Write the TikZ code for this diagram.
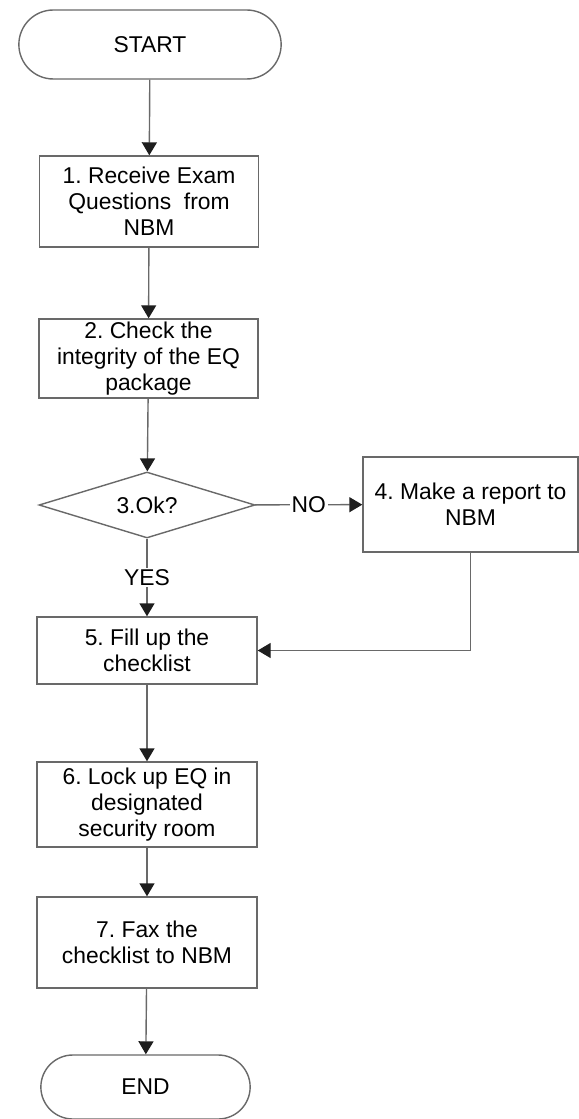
\documentclass[tikz,border=0pt]{standalone}
\usepackage{fontspec}
\setmainfont{Liberation Sans}
\usetikzlibrary{shapes.geometric,shapes.misc,arrows.meta}
\definecolor{flowgrey}{RGB}{105,105,105}
\definecolor{tipblack}{RGB}{30,30,30}

\begin{document}
\begin{tikzpicture}[
    procbox/.style={rectangle, draw=flowgrey, line width=0.8pt, fill=white,
        minimum width=4.38cm, align=center, inner sep=1pt,
        font=\fontsize{13pt}{14.8pt}\selectfont\frenchspacing},
    termbox/.style={rounded rectangle, draw=flowgrey, line width=0.8pt, fill=white,
        minimum width=5.48cm, minimum height=1.38cm,
        font=\fontsize{13pt}{14.8pt}\selectfont},
    decbox/.style={diamond, draw=flowgrey, line width=0.8pt, fill=white,
        aspect=3.3, inner sep=0pt, minimum width=4.32cm, minimum height=1.32cm,
        font=\fontsize{13pt}{14.8pt}\selectfont},
    arr/.style={-{Triangle[length=2.6mm, width=3mm, color=tipblack]},
        line width=0.8pt, flowgrey},
    lbl/.style={fill=white, inner sep=1pt, text=black,
        font=\fontsize{13pt}{14.8pt}\selectfont}
]
    \useasboundingbox (0,0) rectangle (11.58,-22.38);

    \node[termbox] (start) at (3.00,-0.89) {START};
    \node[procbox, minimum height=1.82cm] (recv) at (2.98,-4.03)
        {1. Receive Exam\\Questions~ from\\NBM};
    \node[procbox, minimum height=1.58cm] (check) at (2.97,-7.17)
        {2. Check the\\integrity of the EQ\\package};
    \node[decbox] (ok) at (2.94,-10.10) {3.Ok?};
    \node[procbox, minimum width=4.30cm, minimum height=1.90cm] (report) at (9.41,-10.09)
        {4. Make a report to\\NBM};
    \node[procbox, minimum width=4.40cm, minimum height=1.34cm] (fill) at (2.94,-13.01)
        {5. Fill up the\\checklist};
    \node[procbox, minimum width=4.40cm, minimum height=1.70cm] (lock) at (2.94,-16.09)
        {6. Lock up EQ in\\designated\\security room};
    \node[procbox, minimum width=4.40cm, minimum height=1.82cm] (fax) at (2.94,-18.85)
        {7. Fax the\\checklist to NBM};
    \node[termbox, minimum width=4.42cm, minimum height=1.28cm] (end) at (2.91,-21.74) {END};

    \draw[arr] (start) -- (recv);
    \draw[arr] (recv) -- (check);
    \draw[arr] (check) -- (ok);
    \draw[arr] (ok) -- (report) node[midway, lbl] {NO};
    \draw[arr] (ok) -- (fill) node[midway, lbl] {YES};
    \draw[arr] (report.south) |- (fill.east);
    \draw[arr] (fill) -- (lock);
    \draw[arr] (lock) -- (fax);
    \draw[arr] (fax) -- (end);
\end{tikzpicture}
\end{document}
